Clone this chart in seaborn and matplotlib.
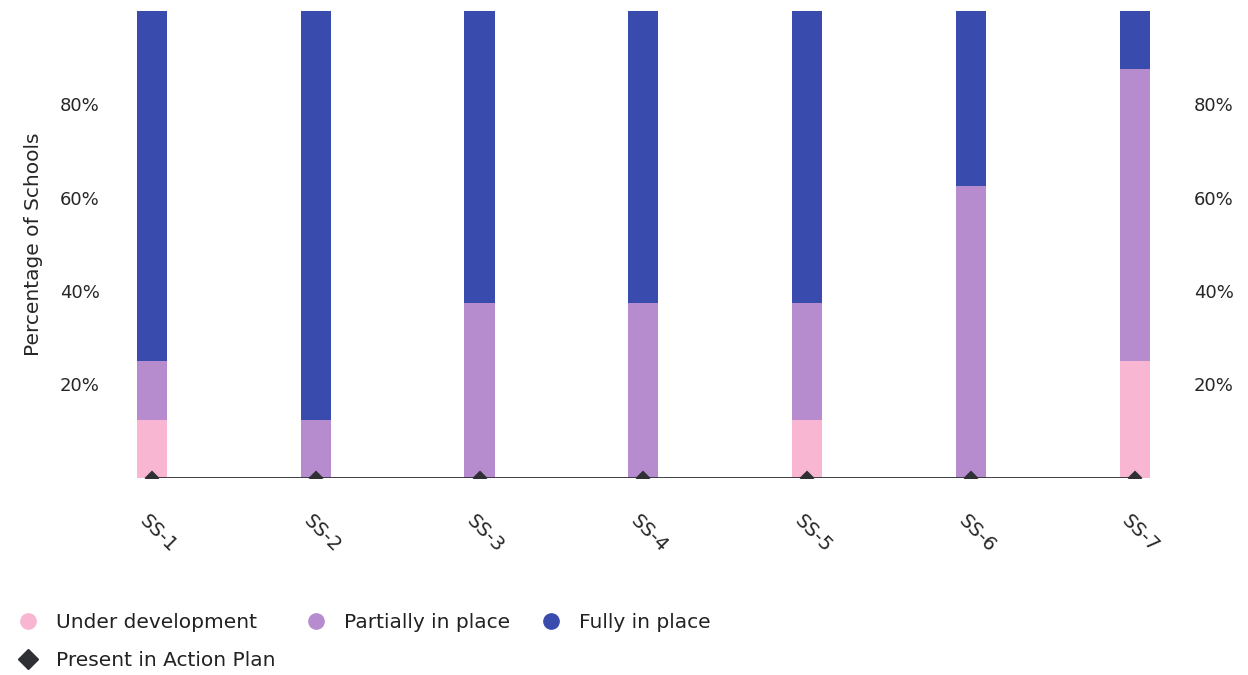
import numpy as np
import pandas as pd
import matplotlib
matplotlib.use("Agg")
import matplotlib.pyplot as plt
from matplotlib.lines import Line2D
from matplotlib.transforms import ScaledTranslation
import seaborn as sns

# ── Data ────────────────────────────────────────────────────────────────────
categories = ["SS-1", "SS-2", "SS-3", "SS-4", "SS-5", "SS-6", "SS-7"]
under_dev = [12.5, 0, 0, 0, 12.5, 0, 25.0]
partial = [12.5, 12.5, 37.5, 37.5, 25.0, 62.5, 62.5]
fully = [75.0, 87.5, 62.5, 62.5, 62.5, 37.5, 12.5]
action_plan = [0, 0, 0, 0, 0, 0, 0]
yticks = [20, 40, 60, 80]
ytick_labels = ["20%", "40%", "60%", "80%"]

COLORS = {
    "under": "#f9b6d2",
    "partial": "#b68ccf",
    "fully": "#3a4bae",
    "plan": "#2e3033",
}

sns.set_style("white")
plt.rcParams["font.family"] = ["DejaVu Sans"]
plt.rcParams["text.color"] = "#222222"

df = pd.DataFrame({
    "cat": categories,
    "under": under_dev,
    "partial": partial,
    "fully": fully,
    "plan": action_plan,
})
df["base_partial"] = df["under"]
df["base_fully"] = df["under"] + df["partial"]

fig = plt.figure(figsize=(12.48, 6.75), dpi=100)
ax = fig.add_axes([0.089, 0.292, 0.853, 0.692])

bw = 0.185
sns.barplot(data=df, x="cat", y="under", color=COLORS["under"], width=bw,
            saturation=1, ax=ax, linewidth=0)
sns.barplot(data=df, x="cat", y="partial", bottom=df["base_partial"], color=COLORS["partial"],
            width=bw, saturation=1, ax=ax, linewidth=0)
sns.barplot(data=df, x="cat", y="fully", bottom=df["base_fully"], color=COLORS["fully"],
            width=bw, saturation=1, ax=ax, linewidth=0)
sns.pointplot(data=df, x="cat", y="plan", color=COLORS["plan"], markers="D",
              markersize=6.5, linewidth=2.0, ax=ax, zorder=5)

ax.set_xlim(-0.25, 6.25)
ax.set_ylim(0, 100)
ax.set_yticks(yticks)
ax.set_yticklabels(ytick_labels)
ax.tick_params(axis="y", length=0, pad=8, labelsize=13)
ax.set_ylabel("Percentage of Schools", fontsize=14.5, labelpad=12)
ax.set_xlabel("")
ax.tick_params(axis="x", length=0, pad=40, labelsize=14)
shift = ScaledTranslation(6 / 100, 0, fig.dpi_scale_trans)
for lab in ax.get_xticklabels():
    lab.set_rotation(-45)
    lab.set_rotation_mode("anchor")
    lab.set_ha("center")
    lab.set_va("center")
    lab.set_transform(lab.get_transform() + shift)
for sp in ax.spines.values():
    sp.set_visible(False)

ax2 = ax.twinx()
ax2.set_ylim(0, 100)
ax2.set_yticks(yticks)
ax2.set_yticklabels(ytick_labels)
ax2.tick_params(axis="y", length=0, pad=13, labelsize=13)
for sp in ax2.spines.values():
    sp.set_visible(False)

handles = [
    Line2D([], [], marker="o", linestyle="", markersize=11, color=COLORS["under"]),
    Line2D([], [], marker="D", linestyle="", markersize=10, color=COLORS["plan"]),
    Line2D([], [], marker="o", linestyle="", markersize=11, color=COLORS["partial"]),
    Line2D([], [], marker="o", linestyle="", markersize=11, color=COLORS["fully"]),
]
labels = ["Under development", "Present in Action Plan", "Partially in place", "Fully in place"]
fig.legend(handles, labels, ncol=3, loc="lower left", bbox_to_anchor=(0.0, -0.02),
           frameon=False, fontsize=14.5, handlelength=1.0, handletextpad=0.9,
           columnspacing=1.5, labelspacing=0.95)

fig.savefig("out.png", dpi=100)
plt.close(fig)
